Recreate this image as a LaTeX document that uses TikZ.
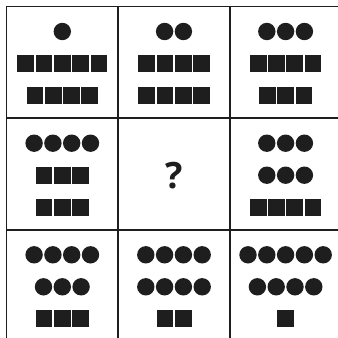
\documentclass[tikz,border=0pt]{standalone}
\usepackage{fontspec}
\setsansfont{Open Sans}
\usepackage{tikz}
\usetikzlibrary{calc}
\definecolor{ink}{HTML}{1E1E1E}
\tikzset{grid line/.style={ink,line width=1.7pt},qmark/.style={font=\sffamily\bfseries\fontsize{31}{31}\selectfont,text=ink}}
% rows of dots and blocks, centred on x=0 of the current scope
\newcommand{\dotrow}[2]{\foreach \i in {1,...,#1} \fill[ink] ({(\i-(#1+1)/2)*18.8},#2) circle (8.7);}
\newcommand{\blkrow}[2]{\foreach \i in {1,...,#1} \fill[ink] ({(\i-(#1+1)/2)*18.3-8.35},{#2-8.35}) rectangle ++(16.7,16.7);}

\begin{document}
\begin{tikzpicture}[x=0.03cm,y=-0.03cm,line join=round]
\useasboundingbox (0,0) rectangle (338,338);
% --- grid (right and bottom edges are cut off)
\draw[grid line] (6.5,338) -- (6.5,6.5) -- (338,6.5);
\draw[grid line] (118.2,6.5) -- (118.2,338); \draw[grid line] (229.8,6.5) -- (229.8,338);
\draw[grid line] (6.5,118.2) -- (338,118.2); \draw[grid line] (6.5,229.8) -- (338,229.8);
% --- row 1
\begin{scope}[shift={(62.3,6.5)}]
\dotrow{1}{25} \blkrow{5}{57} \blkrow{4}{89}
\end{scope}
\begin{scope}[shift={(174,6.5)}]
\dotrow{2}{25} \blkrow{4}{57} \blkrow{4}{89}
\end{scope}
\begin{scope}[shift={(285.6,6.5)}]
\dotrow{3}{25} \blkrow{4}{57} \blkrow{3}{89}
\end{scope}
% --- row 2
\begin{scope}[shift={(62.3,118.2)}]
\dotrow{4}{25} \blkrow{3}{57} \blkrow{3}{89}
\end{scope}
\node[qmark] (q) at (174,175.5) {?};
\begin{scope}[shift={(285.6,118.2)}]
\dotrow{3}{25} \dotrow{3}{57} \blkrow{4}{89}
\end{scope}
% --- row 3
\begin{scope}[shift={(62.3,229.8)}]
\dotrow{4}{25} \dotrow{3}{57} \blkrow{3}{89}
\end{scope}
\begin{scope}[shift={(174,229.8)}]
\dotrow{4}{25} \dotrow{4}{57} \blkrow{2}{89}
\end{scope}
\begin{scope}[shift={(285.6,229.8)}]
\dotrow{5}{25} \dotrow{4}{57} \blkrow{1}{89}
\end{scope}
\end{tikzpicture}
\end{document}
